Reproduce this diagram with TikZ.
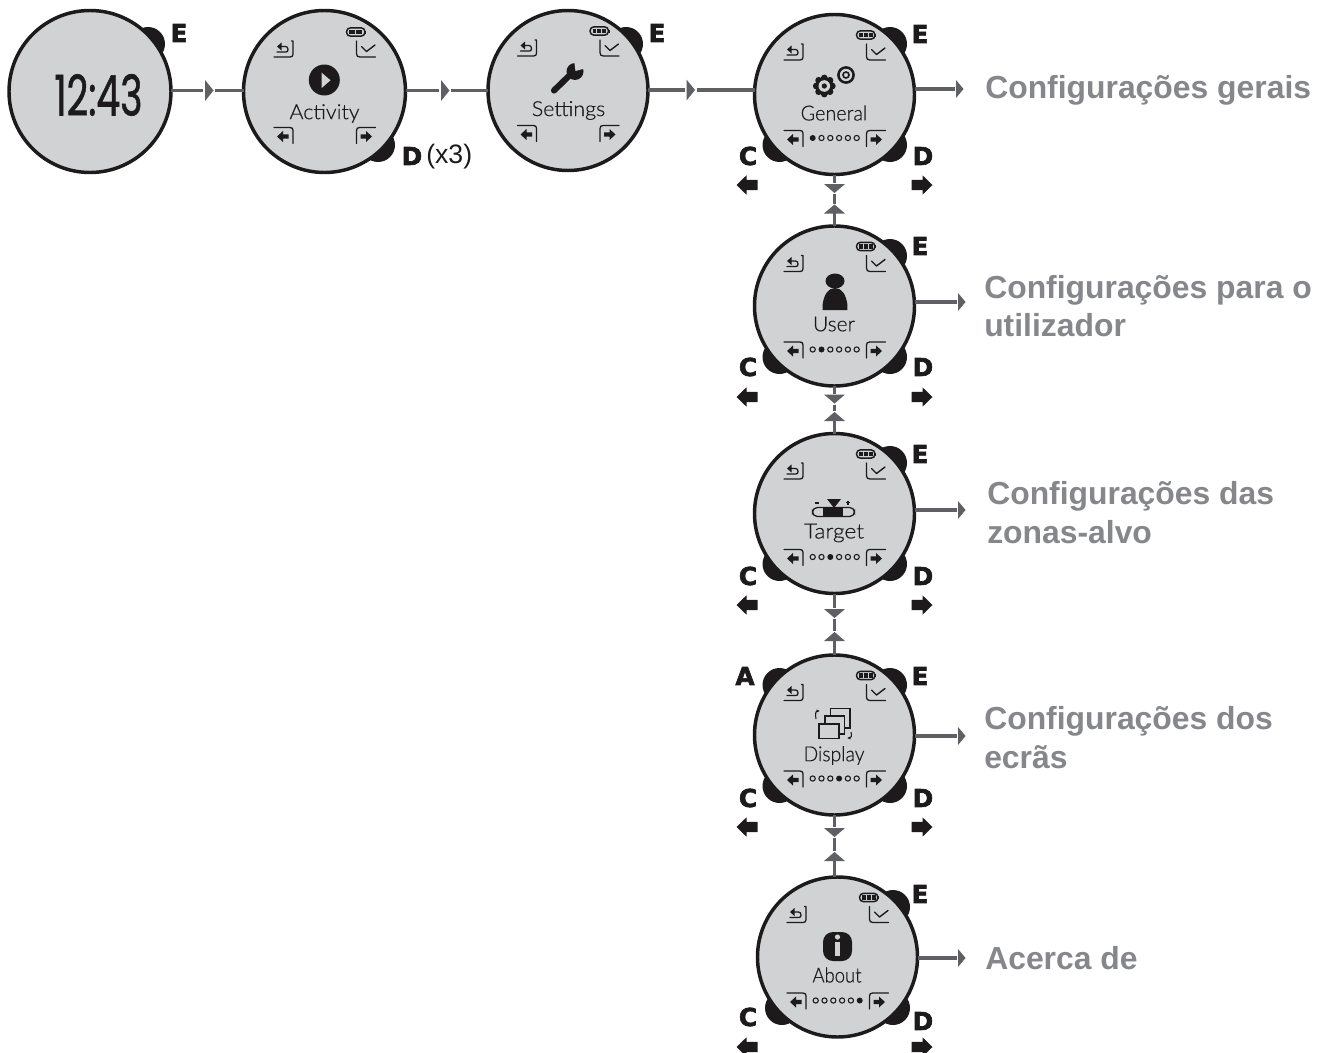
\documentclass[tikz,border=0pt]{standalone}
\usepackage{graphicx}
\usepackage{fontspec}
\usetikzlibrary{calc,arrows.meta}
\setmainfont{Liberation Sans}
\newfontfamily\lcd[FakeBold=0.4]{Lato Light}
\newfontfamily\clockfont[FakeBold=1.2]{Poppins}
\newfontfamily\heavy[FakeBold=2.6]{DejaVu Sans Bold}
\definecolor{lcdbg}{HTML}{D0D2D3}
\definecolor{ink}{HTML}{1C1A1B}
\definecolor{conn}{HTML}{5E6063}
\definecolor{cap}{HTML}{85878A}
\tikzset{
  x=0.75pt,y=-0.75pt,
  disc/.style={circle,draw=ink,fill=lcdbg,line width=2.6pt,inner sep=0pt,outer sep=0pt},
  btn/.style={circle,fill=ink,inner sep=0pt,outer sep=0pt,minimum size=25.5pt},
  hline/.style={draw=conn,line width=2.6pt},
  tipf/.style={fill=conn},
  ico/.style={draw=ink,line width=0.95pt,line cap=round,line join=round},
  keyl/.style={inner sep=0pt,font=\heavy\fontsize{18.5}{18.5}\selectfont,text=ink},
  lcdt/.style={inner sep=0pt,text=ink,font=\lcd\fontsize{15.5}{15.5}\selectfont},
  captxt/.style={inner sep=0pt,anchor=base west,text=cap,font=\bfseries\fontsize{23.9}{23.9}\selectfont},
}
% battery: position, number of bars
\newcommand\batt[2]{%
  \begin{scope}[shift={(#1)}]
    \draw[ink,line width=1.1pt,rounded corners=3pt] (-9.5,-4.2) rectangle (9,4.2);
    \fill[ink] (9.2,-1.5) rectangle (10.4,1.5);
    \ifnum#2=2
      \fill[ink] (-7,-2.3) rectangle (-1,2.3);
      \fill[ink] (0.4,-2.3) rectangle (6.4,2.3);
    \else
      \fill[ink] (-7,-2.3) rectangle (-3.1,2.3);
      \fill[ink] (-2.2,-2.3) rectangle (1.7,2.3);
      \fill[ink] (2.6,-2.3) rectangle (6.5,2.3);
    \fi
  \end{scope}}
% menu corner icons around a centre
\newcommand\corners[4]{% x, y, bars, bottom offset
  \begin{scope}[shift={(#1,#2)}]
    \batt{31.5,-59.5}{#3}
    % back
    \draw[ico] (-50.5,-34.5) -- (-34.5,-34.5) .. controls (-32.5,-34.5) and (-31.5,-35.5) .. (-31.5,-37.5) -- (-31.5,-50.5) -- (-33,-50.5);
    \draw[ico] (-47.5,-39.5) -- (-38.5,-39.5) .. controls (-37,-39.5) and (-36.5,-40.5) .. (-36.5,-42) .. controls (-36.5,-44) and (-37.5,-45) .. (-39,-45) -- (-44,-45);
    \fill[ink] (-47.5,-45) -- (-43,-49) -- (-43,-41) -- cycle;
    % confirm
    \draw[ico] (32,-50.5) -- (32,-38) .. controls (32,-35.5) and (33,-34.5) .. (35.5,-34.5) -- (51,-34.5);
    \draw[ico,line width=1.05pt] (37,-45) -- (42,-40) -- (50.5,-46.5);
    \begin{scope}[yshift=#4*0.75pt]
    % left
    \draw[ico] (-50.5,36) -- (-34.5,36) .. controls (-32.5,36) and (-31.5,37) .. (-31.5,39) -- (-31.5,52);
    \fill[ink] (-47.5,45) -- (-41.5,39.5) -- (-41.5,42.8) -- (-36,42.8) -- (-36,47.2) -- (-41.5,47.2) -- (-41.5,50.5) -- cycle;
    % right
    \draw[ico] (51,36) -- (35,36) .. controls (33,36) and (32,37) .. (32,39) -- (32,52);
    \fill[ink] (47.5,45) -- (41.5,39.5) -- (41.5,42.8) -- (36,42.8) -- (36,47.2) -- (41.5,47.2) -- (41.5,50.5) -- cycle;
    \end{scope}
  \end{scope}}
\newcommand\pager[3]{% x, y, active index
  \begin{scope}[shift={(#1,#2)}]
    \foreach \i in {0,...,5}{
      \ifnum\i=#3
        \fill[ink] (-21.8+8.8*\i,43.5) circle[radius=3];
      \else
        \draw[ink,line width=0.8pt] (-21.8+8.8*\i,43.5) circle[radius=2.6];
      \fi}
  \end{scope}}
\newcommand\blockL[1]{\fill[ink] ($(#1)+(-10.5,0)$) -- ++(10,-9.7) -- ++(0,4.5) -- ++(11,0) -- ++(0,10.4) -- ++(-11,0) -- ++(0,4.5) -- cycle;}
\newcommand\blockR[1]{\fill[ink] ($(#1)+(10.5,0)$) -- ++(-10,-9.7) -- ++(0,4.5) -- ++(-11,0) -- ++(0,10.4) -- ++(11,0) -- ++(0,4.5) -- cycle;}
% horizontal connector: from, to-node-anchor, triangle left x, y
\newcommand\hconn[5]{% id, from, to, x, y
  \coordinate (#1a) at (#4-2,#5);
  \coordinate (#1b) at (#4+10,#5);
  \draw[hline] (#2 |- #1a) -- (#1a);
  \fill[tipf] (#4,#5-10.5) -- (#4+8.5,#5) -- (#4,#5+10.5) -- cycle;
  \draw[hline] (#1b) -- (#3 |- #1b);}
\newcommand\capconn[4]{% id, from, x, y
  \coordinate (#1a) at (#3-1,#4);
  \draw[hline] (#2 |- #1a) -- (#1a);
  \fill[tipf] (#3,#4-9) -- (#3+7.5,#4) -- (#3,#4+9) -- cycle;}
% vertical connector: id, from, to, y of down-base, y of up-tip
\newcommand\vconn[5]{%
  \coordinate (#1a) at (834.5,#4-1);
  \coordinate (#1b) at (834.5,#4+10);
  \coordinate (#1c) at (834.5,#5-1);
  \coordinate (#1d) at (834.5,#5+8);
  \draw[hline] (#2) -- (#1a);
  \fill[tipf] (824,#4) -- (845,#4) -- (834.5,#4+9) -- cycle;
  \draw[hline] (#1b) -- (#1c);
  \fill[tipf] (824,#5+9) -- (845,#5+9) -- (834.5,#5) -- cycle;
  \draw[hline] (#1d) -- (#3);}
\begin{document}
\begin{tikzpicture}
\useasboundingbox (0,0) rectangle (1322,1053);
\clip (0,0) rectangle (1322,1053);
\fill[white] (0,0) rectangle (1322,1053);

% side buttons
\node[btn] (b1e) at (148,44) {};
\node[btn] (b2d) at (378,145) {};
\node[btn] (b3e) at (626,44) {};
\node[btn] (b4e) at (890,44) {};
\node[btn] (b4c) at (779.5,145) {};
\node[btn] (b4d) at (890,145) {};
\node[btn] (b5e) at (890,256) {};
\node[btn] (b5c) at (779.5,357) {};
\node[btn] (b5d) at (890,357) {};
\node[btn] (b6e) at (890,463) {};
\node[btn] (b6c) at (779.5,564) {};
\node[btn] (b6d) at (890,564) {};
\node[btn] (b7a) at (779.5,685) {};
\node[btn] (b7e) at (890,685) {};
\node[btn] (b7c) at (779.5,786) {};
\node[btn] (b7d) at (890,786) {};
\node[btn] (b8e) at (893,907) {};
\node[btn] (b8c) at (782,1008) {};
\node[btn] (b8d) at (893,1008) {};

% watch faces
\node[disc,minimum size=121.5pt] (w1) at (90,91.5) {};
\node[disc,minimum size=121.5pt] (w2) at (324.5,91.5) {};
\node[disc,minimum size=120pt] (w3) at (568,90.5) {};
\node[disc,minimum size=120pt] (w4) at (834.5,94.5) {};
\node[disc,minimum size=120pt] (w5) at (834.5,306) {};
\node[disc,minimum size=120pt] (w6) at (834.5,513.5) {};
\node[disc,minimum size=120pt] (w7) at (834.5,735) {};
\node[disc,minimum size=120pt] (w8) at (837.5,957) {};

% horizontal connectors
\hconn{h1}{w1.east}{w2.west}{205}{90.5}
\hconn{h2}{w2.east}{w3.west}{441}{90.5}
\hconn{h3}{w3.east}{w4.west}{686.5}{90}

% vertical connectors
\vconn{v1}{w4.south}{w5.north}{184}{204.5}
\vconn{v2}{w5.south}{w6.north}{394.5}{412}
\vconn{v3}{w6.south}{w7.north}{609}{632}
\vconn{v4}{w7.south}{w8.north -| w7.south}{828}{852}

% connectors to captions
\capconn{c1}{w4.east}{956}{89}
\capconn{c2}{w5.east}{958}{302}
\capconn{c3}{w6.east}{958}{510}
\capconn{c4}{w7.east}{958}{736}
\capconn{c5}{w8.east}{958}{958}

% captions
\node[captxt] (t1) at (985,98) {Configurações gerais};
\node[captxt] (t2a) at (984,298.5) {Configurações para o};
\node[captxt] (t2b) at (984,336.5) {utilizador};
\node[captxt] (t3a) at (987,504) {Configurações das};
\node[captxt] (t3b) at (987,543) {zonas-alvo};
\node[captxt] (t4a) at (984,729) {Configurações dos};
\node[captxt] (t4b) at (984,768) {ecrãs};
\node[captxt] (t5) at (985,969) {Acerca de};

% clock
\node[inner sep=0pt,text=ink] (clock) at (98.5,95) {\resizebox{66pt}{31pt}{\clockfont 12:43}};

% icon groups
\corners{324.5}{91.5}{2}{0}
\corners{568}{90.5}{3}{1}
\corners{834.5}{94.5}{3}{0}
\corners{834.5}{306}{3}{0}
\corners{834.5}{513.5}{3}{0}
\corners{834.5}{735}{3}{0}
\corners{837.5}{957}{3}{0}
\pager{834.5}{94.5}{0}
\pager{834.5}{306}{1}
\pager{834.5}{513.5}{2}
\pager{834.5}{735}{3}
\pager{837.5}{957}{5}

% face labels
\node[lcdt] (l2) at (324.5,113.5) {\resizebox{52.5pt}{\height}{Activity}};
\node[lcdt] (l3) at (568.5,110.5) {\resizebox{55pt}{\height}{Settings}};
\node[lcdt] (l4) at (834,113) {\resizebox{50pt}{\height}{General}};
\node[lcdt] (l5) at (834,324) {\resizebox{31.5pt}{\height}{User}};
\node[lcdt] (l6) at (834,533) {\resizebox{45pt}{\height}{Target}};
\node[lcdt] (l7) at (834,755.5) {\resizebox{45.7pt}{\height}{Display}};
\node[lcdt] (l8) at (837,975) {\resizebox{36.7pt}{\height}{About}};

% play icon
\fill[ink] (324.3,80) circle[radius=15.5];
\fill[lcdbg] (321.7,72.7) -- (330.5,80.3) -- (321.7,88) -- cycle;
% wrench
\draw[ink,line width=4.6pt,line cap=round] (554,90.5) -- (571,74);
\fill[ink] (575,71.5) circle[radius=8.5];
\fill[lcdbg] (575.5,71) -- (574,60) -- (585,60) -- (584.5,68.5) -- cycle;
% gears
\foreach \a in {0,45,...,315}{\fill[ink] (824.3,86)+(\a:8) circle[radius=3.4];}
\fill[ink] (824.3,86) circle[radius=9];
\fill[lcdbg] (824.3,86) circle[radius=5.8];
\fill[ink] (824.3,86) circle[radius=2.6];
\draw[ink,line width=1.9pt] (846,75) circle[radius=7.6];
\draw[ink,line width=1.2pt] (846,75) circle[radius=3];
% user
\fill[ink] (835,281) ellipse[x radius=9.5,y radius=7.5];
\fill[ink] (822.7,310) -- (822.7,304) .. controls (824,295) and (828,288) .. (835,288) .. controls (842,288) and (846,295) .. (847.3,304) -- (847.3,310) -- cycle;
% target
\draw[ink,line width=0.95pt,rounded corners=3.6pt] (812.5,507.5) rectangle (854.5,516.5);
\fill[ink] (823,507) rectangle (843,517);
\fill[ink] (827,499) -- (841,499) -- (834,508) -- cycle;
\draw[ink,line width=0.8pt] (815,503) -- (819,503) (846,502.5) -- (850,502.5) (848,500.5) -- (848,504.5);
% display
\draw[ink,line width=1pt,fill=lcdbg] (830.5,708.5) rectangle (850,728);
\draw[ink,line width=1pt,fill=lcdbg] (825,716) rectangle (844.5,734);
\draw[ink,line width=1pt,fill=lcdbg] (819,724) rectangle (839,738.5);
\draw[ink,line width=0.8pt,-{Latex[length=2.5pt,width=2.5pt]}] (816,719) .. controls (815,714) and (816,711) .. (820,711);
\draw[ink,line width=0.8pt,-{Latex[length=2.5pt,width=2.5pt]}] (851,732) .. controls (852,736) and (851,738) .. (847,738);
% info
\fill[ink,rounded corners=7.5pt] (823,932) rectangle (852,961);
\fill[lcdbg] (837.5,937) circle[radius=2.6];
\fill[lcdbg] (835,942) rectangle (840.2,955.5);

% key letters
\node[keyl] (e1) at (179,33) {E};
\node[keyl] (d2) at (412,156) {D};
\node[inner sep=0pt,anchor=west,font=\fontsize{20}{20}\selectfont,text=ink] (x3) at (426,157) {(x3)};
\node[keyl] (e3) at (657,33) {E};
\node[keyl] (e4) at (920,34) {E};
\node[keyl] (c4) at (748,156) {C};
\node[keyl] (d4) at (923,156) {D};
\node[keyl] (e5) at (920,246) {E};
\node[keyl] (c5) at (748,367) {C};
\node[keyl] (d5) at (923,367) {D};
\node[keyl] (e6) at (920,454) {E};
\node[keyl] (c6) at (748,576) {C};
\node[keyl] (d6) at (923,576) {D};
\node[keyl] (a7) at (745,676) {A};
\node[keyl] (e7) at (920,676) {E};
\node[keyl] (c7) at (748,798) {C};
\node[keyl] (d7) at (923,798) {D};
\node[keyl] (e8) at (920,894) {E};
\node[keyl] (c8) at (748,1017) {C};
\node[keyl] (d8) at (923,1021) {D};

% block arrows
\blockL{747,185} \blockR{922,185}
\blockL{747,397} \blockR{922,397}
\blockL{747,605} \blockR{922,605}
\blockL{747,827} \blockR{922,827}
\blockL{747,1047} \blockR{922,1047}
\end{tikzpicture}
\end{document}
